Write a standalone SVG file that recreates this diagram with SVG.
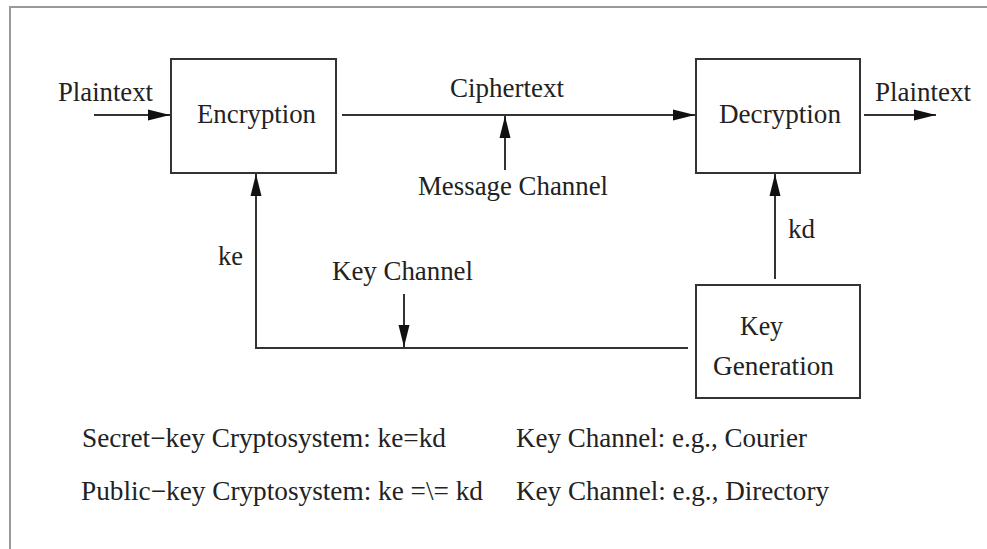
<svg xmlns="http://www.w3.org/2000/svg" width="987" height="549" viewBox="0 0 987 549">
<style>
  .box{fill:#fff;stroke:#333;stroke-width:2}
  .ln{fill:none;stroke:#333;stroke-width:2}
  .t{font-family:"Liberation Serif","Times New Roman",serif;font-size:27px;fill:#222}
</style>
<defs>
  <marker id="ah" markerUnits="userSpaceOnUse" markerWidth="22" markerHeight="12" refX="22" refY="6" orient="auto">
    <path d="M0,0.5 L22,6 L0,11.5 z" fill="#111"/>
  </marker>
</defs>
<rect x="0" y="0" width="987" height="549" fill="#fff"/>
<rect x="10" y="7" width="1200" height="700" fill="none" stroke="#999" stroke-width="2"/>

<g id="connectors">
  <line class="ln" x1="94" y1="115" x2="170" y2="115" marker-end="url(#ah)"/>
  <line class="ln" x1="342" y1="115" x2="695" y2="115" marker-end="url(#ah)"/>
  <line class="ln" x1="505" y1="170" x2="505" y2="116" marker-end="url(#ah)"/>
  <line class="ln" x1="864" y1="115" x2="936" y2="115" marker-end="url(#ah)"/>
  <polyline class="ln" points="688,348 256,348 256,174" marker-end="url(#ah)"/>
  <line class="ln" x1="404" y1="294" x2="404" y2="347" marker-end="url(#ah)"/>
  <line class="ln" x1="775" y1="279" x2="775" y2="174" marker-end="url(#ah)"/>
</g>

<g id="encryption">
  <rect class="box" x="171" y="59" width="165" height="114"/>
  <text class="t" x="197" y="123" textLength="119" lengthAdjust="spacingAndGlyphs">Encryption</text>
</g>
<g id="decryption">
  <rect class="box" x="696" y="59" width="164" height="114"/>
  <text class="t" x="719" y="123" textLength="122" lengthAdjust="spacingAndGlyphs">Decryption</text>
</g>
<g id="keygen">
  <rect class="box" x="696" y="285" width="164" height="113"/>
  <text class="t" x="740" y="335" textLength="43" lengthAdjust="spacingAndGlyphs">Key</text>
  <text class="t" x="713" y="375" textLength="121" lengthAdjust="spacingAndGlyphs">Generation</text>
</g>

<g id="labels">
  <text class="t" x="58" y="101" textLength="95" lengthAdjust="spacingAndGlyphs">Plaintext</text>
  <text class="t" x="450" y="97" textLength="114" lengthAdjust="spacingAndGlyphs">Ciphertext</text>
  <text class="t" x="418" y="195" textLength="190" lengthAdjust="spacingAndGlyphs">Message Channel</text>
  <text class="t" x="875" y="101" textLength="96" lengthAdjust="spacingAndGlyphs">Plaintext</text>
  <text class="t" x="218" y="265" textLength="25" lengthAdjust="spacingAndGlyphs">ke</text>
  <text class="t" x="332" y="280" textLength="141" lengthAdjust="spacingAndGlyphs">Key Channel</text>
  <text class="t" x="788" y="238" textLength="27" lengthAdjust="spacingAndGlyphs">kd</text>
  <text class="t" x="82" y="447" textLength="364" lengthAdjust="spacingAndGlyphs">Secret−key Cryptosystem: ke=kd</text>
  <text class="t" x="516" y="447" textLength="291" lengthAdjust="spacingAndGlyphs">Key Channel: e.g., Courier</text>
  <text class="t" x="81" y="500" textLength="402" lengthAdjust="spacingAndGlyphs">Public−key Cryptosystem: ke =\= kd</text>
  <text class="t" x="516" y="500" textLength="313" lengthAdjust="spacingAndGlyphs">Key Channel: e.g., Directory</text>
</g>
</svg>
